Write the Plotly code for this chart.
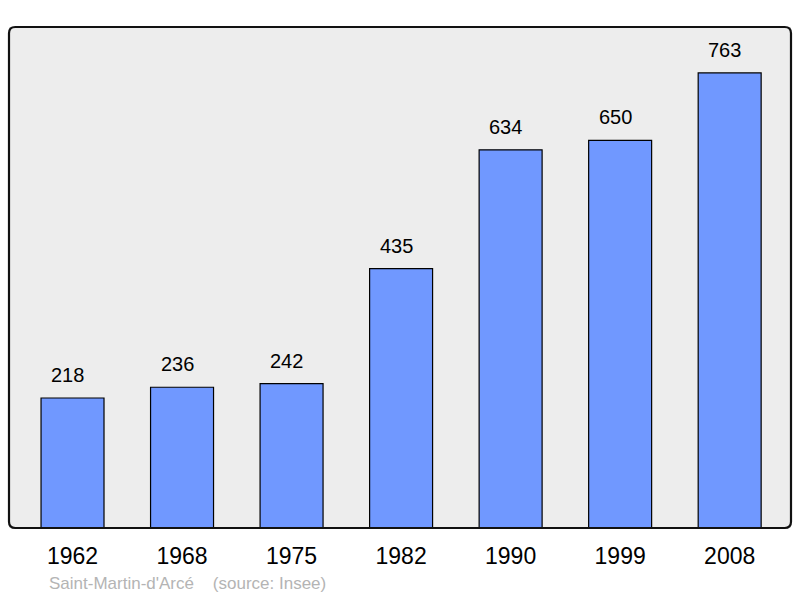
import plotly.graph_objects as go

years = ["1962", "1968", "1975", "1982", "1990", "1999", "2008"]
population = [218, 236, 242, 435, 634, 650, 763]
footer_place = "Saint-Martin-d'Arcé"
footer_source = "(source: Insee)"

xs = list(range(len(years)))

fig = go.Figure()
fig.add_trace(go.Bar(
    x=xs, y=population, width=0.575,
    marker=dict(color="#7098ff", line=dict(color="#000000", width=1.2)),
    hoverinfo="skip",
))

for x, v in zip(xs, population):
    fig.add_annotation(x=x, y=v, text=str(v), showarrow=False, yanchor="bottom",
                       yshift=10, xshift=-5,
                       font=dict(family="Liberation Sans, Arial", size=20, color="#000"))

fig.add_annotation(xref="paper", yref="paper", x=0.049, y=-0.11, xanchor="left", yanchor="middle",
                   text=footer_place + "&nbsp;&nbsp;&nbsp;&nbsp;" + footer_source, showarrow=False,
                   font=dict(family="Liberation Sans, Arial", size=17, color="#b4b4b4"))

# rounded border
r = 0.008
ry = r * 782 / 501
path = (f"M {r},0 L {1-r},0 Q 1,0 1,{ry} L 1,{1-ry} Q 1,1 {1-r},1 L {r},1 Q 0,1 0,{1-ry} "
        f"L 0,{ry} Q 0,0 {r},0 Z")
fig.add_shape(type="path", xref="paper", yref="paper", path=path,
              line=dict(color="#111", width=2.2), layer="above")

fig.update_layout(
    width=800, height=598,
    margin=dict(l=9, r=9, t=27, b=70),
    paper_bgcolor="#ffffff", plot_bgcolor="#ededed",
    showlegend=False,
    xaxis=dict(range=[-0.58, 6.56], tickmode="array", tickvals=xs, ticktext=years,
               showgrid=False, zeroline=False, ticks="", showline=False,
               ticklabelstandoff=12,
               tickfont=dict(family="Liberation Sans, Arial", size=23, color="#000")),
    yaxis=dict(range=[0, 840], showgrid=False, zeroline=False, showticklabels=False,
               ticks="", showline=False),
)

fig.write_html("out.html", config={"displayModeBar": False},
               post_script="document.body.style.margin='0';document.body.style.overflow='hidden';")
